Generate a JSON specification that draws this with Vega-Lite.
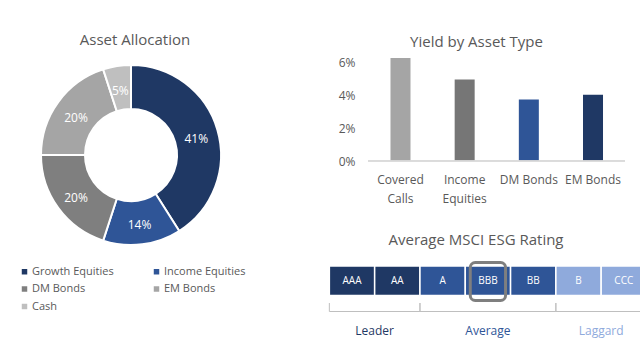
{
  "$schema": "https://vega.github.io/schema/vega-lite/v6.json",
  "background": "white",
  "padding": {"left": 0, "top": 33, "right": 0, "bottom": 0},
  "bounds": "flush",
  "spacing": 66,
  "resolve": {"scale": {"color": "independent"}, "legend": {"color": "independent"}},
  "config": {
    "font": "Open Sans",
    "view": {"stroke": null},
    "title": {"color": "#595959", "fontWeight": "normal", "fontSize": 15},
    "axis": {"labelColor": "#595959", "labelFontSize": 12, "labelFont": "Open Sans"}
  },
  "hconcat": [
    {
      "width": 262,
      "height": 202,
      "title": {"text": "Asset Allocation", "offset": 6, "dx": 4},
      "data": {
        "values": [
          {"asset": "Growth Equities", "share": 0.41, "order": 1},
          {"asset": "Income Equities", "share": 0.14, "order": 2},
          {"asset": "DM Bonds", "share": 0.20, "order": 3},
          {"asset": "EM Bonds", "share": 0.20, "order": 4},
          {"asset": "Cash", "share": 0.05, "order": 5}
        ]
      },
      "encoding": {
        "theta": {"field": "share", "type": "quantitative", "stack": true},
        "order": {"field": "order", "type": "quantitative"},
        "color": {
          "field": "asset",
          "type": "nominal",
          "sort": null,
          "scale": {
            "domain": ["Growth Equities", "Income Equities", "DM Bonds", "EM Bonds", "Cash"],
            "range": ["#1f3864", "#2f5597", "#7f7f7f", "#a5a5a5", "#bfbfbf"]
          },
          "legend": {
            "orient": "none",
            "direction": "horizontal",
            "legendX": 19,
            "legendY": 212,
            "columns": 2,
            "columnPadding": 37,
            "rowPadding": 5.5,
            "symbolType": "square",
            "symbolSize": 30,
            "symbolStrokeWidth": 0,
            "labelOffset": 2,
            "labelFontSize": 11,
            "labelColor": "#595959",
            "labelFont": "Open Sans",
            "title": null
          }
        }
      },
      "layer": [
        {"mark": {"type": "arc", "outerRadius": 90, "innerRadius": 46, "stroke": "white", "strokeWidth": 2}},
        {
          "mark": {"type": "text", "radius": 68, "fontSize": 12, "dy": 3},
          "encoding": {
            "text": {"field": "share", "type": "quantitative", "format": ".0%"},
            "color": {"value": "white"}
          }
        }
      ]
    },
    {
      "bounds": "flush",
      "spacing": 105,
      "resolve": {"scale": {"color": "independent"}, "legend": {"color": "independent"}},
      "vconcat": [
        {
          "width": 297,
          "height": 107,
          "title": {"text": "Yield by Asset Type", "offset": 4},
          "data": {
            "values": [
              {"asset": "Covered Calls", "yield": 0.0626},
              {"asset": "Income Equities", "yield": 0.0495},
              {"asset": "DM Bonds", "yield": 0.0374},
              {"asset": "EM Bonds", "yield": 0.0402}
            ]
          },
          "layer": [
            {
              "mark": {"type": "bar"},
              "encoding": {
                "x": {
                  "field": "asset",
                  "type": "nominal",
                  "sort": null,
                  "scale": {"paddingInner": 0.6883, "paddingOuter": 0.6583, "align": 0.7397},
                  "axis": {
                    "title": null,
                    "labelAngle": 0,
                    "domain": false,
                    "ticks": false,
                    "labelPadding": 13,
                    "labelLineHeight": 19,
                    "labelExpr": "datum.label == 'Covered Calls' ? ['Covered', 'Calls'] : datum.label == 'Income Equities' ? ['Income', 'Equities'] : datum.label"
                  }
                },
                "y": {
                  "field": "yield",
                  "type": "quantitative",
                  "scale": {"domain": [0, 0.065], "nice": false},
                  "axis": {
                    "title": null,
                    "tickCount": 4,
                    "format": ".0%",
                    "grid": false,
                    "domain": false,
                    "ticks": false,
                    "labelOverlap": false,
                    "labelFlush": false,
                    "offset": -40,
                    "labelPadding": 13
                  }
                },
                "color": {
                  "field": "asset",
                  "type": "nominal",
                  "scale": {
                    "domain": ["Covered Calls", "Income Equities", "DM Bonds", "EM Bonds"],
                    "range": ["#a5a5a5", "#767676", "#2f5597", "#1f3864"]
                  },
                  "legend": null
                }
              }
            },
            {
              "mark": {"type": "rule", "color": "#d9d9d9", "strokeWidth": 1},
              "encoding": {
                "x": {"datum": "Covered Calls", "bandPosition": -1.125},
                "x2": {"datum": "EM Bonds", "bandPosition": 2.1},
                "y": {"datum": 0, "type": "quantitative"}
              }
            }
          ]
        },
        {
          "width": 312,
          "height": 75,
          "title": {"text": "Average MSCI ESG Rating", "fontSize": 15, "offset": 13, "dx": -8},
          "data": {
            "values": [
              {"rating": "AAA", "rank": 1, "group": "Leader", "current": false},
              {"rating": "AA", "rank": 2, "group": "Leader", "current": false},
              {"rating": "A", "rank": 3, "group": "Average", "current": false},
              {"rating": "BBB", "rank": 4, "group": "Average", "current": true},
              {"rating": "BB", "rank": 5, "group": "Average", "current": false},
              {"rating": "B", "rank": 6, "group": "Laggard", "current": false},
              {"rating": "CCC", "rank": 7, "group": "Laggard", "current": false}
            ]
          },
          "transform": [
            {"calculate": "datum.rank - 1", "as": "lo"},
            {"calculate": "datum.rank - 0.5", "as": "mid"}
          ],
          "layer": [
            {
              "mark": {"type": "rect", "stroke": "white", "strokeWidth": 1.5, "clip": true},
              "encoding": {
                "x": {"field": "lo", "type": "quantitative", "scale": {"domain": [-0.03, 6.857], "nice": false, "zero": false}, "axis": null},
                "x2": {"field": "rank"},
                "y": {"datum": 0, "type": "quantitative", "scale": {"domain": [0, 75], "reverse": true, "nice": false}, "axis": null},
                "y2": {"datum": 29.5},
                "color": {
                  "field": "group",
                  "type": "nominal",
                  "scale": {"domain": ["Leader", "Average", "Laggard"], "range": ["#1f3864", "#2f5597", "#8faadc"]},
                  "legend": null
                }
              }
            },
            {
              "mark": {"type": "text", "fontSize": 10, "clip": true},
              "encoding": {
                "x": {"field": "mid", "type": "quantitative", "scale": {"domain": [-0.03, 6.857], "nice": false, "zero": false}},
                "y": {"datum": 15, "type": "quantitative", "scale": {"domain": [0, 75], "reverse": true, "nice": false}},
                "text": {"field": "rating"},
                "color": {"value": "white"}
              }
            },
            {
              "transform": [{"filter": "datum.current"}],
              "mark": {"type": "rect", "fill": null, "fillOpacity": 0, "stroke": "#7f7f7f", "strokeWidth": 3, "cornerRadius": 5, "xOffset": 5, "x2Offset": -5, "yOffset": -3.5, "y2Offset": 5},
              "encoding": {
                "x": {"field": "lo", "type": "quantitative", "scale": {"domain": [-0.03, 6.857], "nice": false, "zero": false}},
                "x2": {"field": "rank"},
                "y": {"datum": 0, "type": "quantitative", "scale": {"domain": [0, 75], "reverse": true, "nice": false}},
                "y2": {"datum": 29.5},
                "color": {"value": null}
              }
            },
            {
              "transform": [
                {"aggregate": [{"op": "min", "field": "lo", "as": "gstart"}, {"op": "max", "field": "rank", "as": "gend"}], "groupby": ["group"]},
                {"calculate": "(datum.gstart + datum.gend) / 2", "as": "gmid"}
              ],
              "layer": [
                {
                  "mark": {"type": "rule", "color": "#bfbfbf", "strokeWidth": 1, "clip": true},
                  "encoding": {
                    "x": {"field": "gstart", "type": "quantitative", "scale": {"domain": [-0.03, 6.857], "nice": false, "zero": false}},
                    "x2": {"field": "gend"},
                    "y": {"datum": 45.5, "type": "quantitative", "scale": {"domain": [0, 75], "reverse": true, "nice": false}}
                  }
                },
                {
                  "mark": {"type": "rule", "color": "#bfbfbf", "strokeWidth": 1, "clip": true},
                  "encoding": {
                    "x": {"field": "gstart", "type": "quantitative", "scale": {"domain": [-0.03, 6.857], "nice": false, "zero": false}},
                    "y": {"datum": 37, "type": "quantitative", "scale": {"domain": [0, 75], "reverse": true, "nice": false}},
                    "y2": {"datum": 45.5}
                  }
                },
                {
                  "mark": {"type": "rule", "color": "#bfbfbf", "strokeWidth": 1, "clip": true},
                  "encoding": {
                    "x": {"field": "gend", "type": "quantitative", "scale": {"domain": [-0.03, 6.857], "nice": false, "zero": false}},
                    "y": {"datum": 37, "type": "quantitative", "scale": {"domain": [0, 75], "reverse": true, "nice": false}},
                    "y2": {"datum": 45.5}
                  }
                },
                {
                  "mark": {"type": "text", "fontSize": 12},
                  "encoding": {
                    "x": {"field": "gmid", "type": "quantitative", "scale": {"domain": [-0.03, 6.857], "nice": false, "zero": false}},
                    "y": {"datum": 65, "type": "quantitative", "scale": {"domain": [0, 75], "reverse": true, "nice": false}},
                    "text": {"field": "group"},
                    "color": {"field": "group", "type": "nominal", "legend": null}
                  }
                }
              ]
            }
          ]
        }
      ]
    }
  ]
}
